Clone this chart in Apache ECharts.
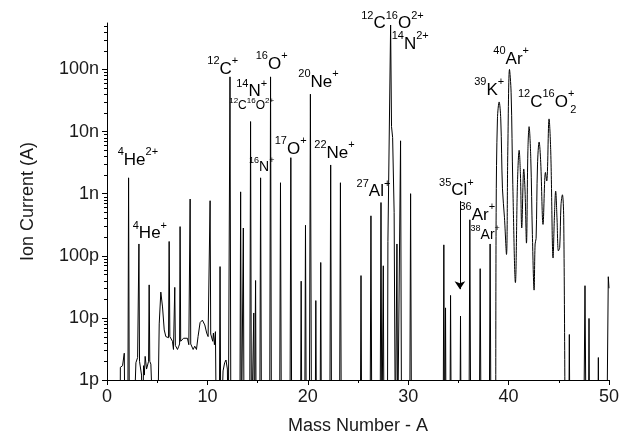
<!DOCTYPE html>
<html>
<head>
<meta charset="utf-8">
<script src="https://cdn.jsdelivr.net/npm/echarts@6/dist/echarts.min.js"></script>
<style>
  html, body { margin: 0; padding: 0; background: #fff; }
  #chart { width: 622px; height: 440px; }
</style>
</head>
<body>
<div id="chart"></div>
<script>
// values under the 1p floor (line drops out of the plot)
var F = 1e-13;

// [mass number, ion current (A)]
var heliumRegion = [
  [1.30, F], [1.33, 1.6e-12], [1.55, 1.7e-12], [1.72, 2.7e-12], [1.80, F],
  [2.07, F], [2.15, 1.8e-9], [2.23, F],
  [2.62, F], [2.88, 1.9e-12], [3.05, 2.3e-12], [3.12, 2.2e-12], [3.18, 1.55e-10], [3.24, 2.0e-12],
  [3.31, 1.9e-12], [3.44, 1.2e-12], [3.52, F], [3.64, 1.7e-12], [3.72, 1.2e-12], [3.80, 2.4e-12],
  [3.94, 1.5e-12], [4.14, 2.0e-12], [4.20, 3.4e-11], [4.26, 2.0e-12], [4.37, 1.8e-12], [4.54, 1.7e-12], [4.64, F]
];

var lowMassRegion = [
  [5.03, F], [5.20, 8e-12], [5.36, 2.6e-11], [5.53, 1.5e-11], [5.70, 6.4e-12], [5.86, 5e-12],
  [6.03, 4.7e-12], [6.13, 4.8e-12], [6.19, 1.7e-10], [6.26, 5e-12], [6.32, 5e-12], [6.52, 4.2e-12],
  [6.62, 3.1e-12], [6.70, 3.3e-12], [6.75, 3.1e-11], [6.81, 3.6e-12], [6.89, 3.7e-12], [7.02, 3.1e-12],
  [7.15, 3.5e-12], [7.23, 3.8e-12], [7.28, 2.95e-10], [7.34, 4.2e-12], [7.42, 4.4e-12], [7.62, 4.7e-12],
  [7.81, 4.4e-12], [8.01, 4.7e-12], [8.15, 3.7e-12], [8.23, 3.8e-12], [8.28, 8.2e-10], [8.34, 3.8e-12],
  [8.41, 3.7e-12], [8.58, 3.1e-12], [8.74, 3.5e-12], [8.91, 3.1e-12], [9.07, 5e-12], [9.27, 8.4e-12],
  [9.50, 9.2e-12], [9.74, 7.7e-12], [9.93, 5.7e-12], [10.07, 5e-12], [10.21, 5e-12], [10.27, 7.7e-10],
  [10.33, 5.5e-12], [10.40, 5.3e-12], [10.53, 4.2e-12], [10.60, 5.7e-12], [10.70, 3.7e-12], [10.80, 6e-12], [10.90, F],
  [11.18, F], [11.26, 6.7e-11], [11.34, F],
  [11.50, F], [11.56, 1.4e-12], [11.72, 1.9e-12], [11.85, 2.1e-12], [11.99, 1.5e-12], [12.08, F]
];

var midMassRegion = [
  [12.16, F], [12.25, 7.6e-8], [12.34, F],
  [13.23, F], [13.31, 1.07e-9], [13.39, F],
  [13.51, F], [13.58, 2.8e-10], [13.65, F],
  [14.21, F], [14.30, 1.45e-8], [14.39, F],
  [14.56, F], [14.62, 1.2e-11], [14.68, F],
  [14.74, F], [14.80, 4e-11], [14.86, F],
  [15.21, F], [15.30, 1.8e-9], [15.39, F],
  [16.20, F], [16.29, 7.6e-8], [16.38, F],
  [17.19, F], [17.28, 1.5e-9], [17.37, F],
  [18.22, F], [18.31, 3.8e-9], [18.40, F],
  [19.27, F], [19.34, 3.9e-11], [19.41, F],
  [19.69, F], [19.77, 3.1e-10], [19.85, F],
  [20.15, F], [20.26, 4e-8], [20.37, F],
  [20.73, F], [20.80, 1.9e-11], [20.87, F],
  [21.22, F], [21.29, 7.8e-11], [21.36, F],
  [22.19, F], [22.28, 2.9e-9], [22.37, F],
  [23.16, F], [23.25, 1.5e-9], [23.34, F],
  [25.23, F], [25.30, 4.8e-11], [25.37, F],
  [26.20, F], [26.29, 4.4e-10], [26.38, F],
  [27.20, F], [27.29, 7.2e-10], [27.38, F],
  [27.45, F], [27.52, 6.9e-11], [27.59, F],
  [27.93, F], [27.98, 1.7e-10], [28.06, 1.8e-10], [28.25, 5.2e-7], [28.34, 1.2e-8], [28.45, 8e-9], [28.60, 5e-10], [28.72, F],
  [28.81, F], [28.88, 1.55e-10], [28.95, F],
  [29.14, F], [29.24, 7.1e-9], [29.34, F],
  [30.15, F], [30.24, 1.0e-9], [30.33, F]
];

var highMassRegion = [
  [33.48, F], [33.55, 1.5e-10], [33.62, F],
  [33.67, F], [33.72, 1.45e-11], [33.77, F],
  [34.15, F], [34.22, 2.3e-11], [34.29, F],
  [35.15, F], [35.21, 1.07e-11], [35.27, F],
  [36.05, F], [36.14, 3.8e-10], [36.23, F],
  [37.08, F], [37.17, 6.2e-11], [37.26, F],
  [38.07, F], [38.16, 1.55e-10], [38.25, F]
];

// broad overlapping peaks around 39K / 40Ar / CO2
var argonCluster = [
  [38.72, F], [38.76, 5e-10], [38.89, 1.6e-8], [39.06, 3e-8], [39.22, 1.6e-8], [39.39, 1.2e-9],
  [39.59, 4.1e-10], [39.79, 1.05e-10], [39.92, 4.7e-9], [40.09, 1e-7], [40.25, 4.3e-8], [40.42, 1.4e-9],
  [40.68, 3.7e-11], [40.88, 1.4e-9], [41.05, 5e-9], [41.18, 2e-9], [41.31, 2.8e-10], [41.51, 2.5e-9],
  [41.64, 1.1e-9], [41.78, 1.6e-10], [41.92, 4.7e-9], [42.04, 1.2e-8], [42.21, 3.7e-9], [42.37, 2.2e-10],
  [42.54, 2.8e-11], [42.64, 1.55e-10], [42.74, 1.9e-10], [42.88, 2.9e-9], [43.04, 6.8e-9], [43.20, 3.2e-9],
  [43.43, 3.2e-10], [43.67, 2.2e-9], [43.80, 1.6e-9], [44.03, 1.6e-8], [44.20, 4.7e-9], [44.43, 9.2e-11],
  [44.56, 4.1e-10], [44.69, 1.1e-9], [44.82, 4.1e-10], [44.96, 1.2e-10], [45.09, 1.35e-10], [45.22, 6.6e-10],
  [45.36, 9.6e-10], [45.49, 4.1e-10], [45.63, F]
];

var tailRegion = [
  [45.99, F], [46.05, 5.4e-12], [46.11, F],
  [47.48, F], [47.61, 3.3e-11], [47.72, F],
  [47.95, F], [48.01, 9.8e-12], [48.07, F],
  [48.89, F], [48.94, 2.3e-12], [48.99, F],
  [49.78, F], [49.93, 4.6e-11], [50.0, 3e-11]
];

// axis ticks
var xTicks = [0, 10, 20, 30, 40, 50];
var yTickLabels = ['1p', '10p', '100p', '1n', '10n', '100n'];

// peak annotations: position (mass, current) and text
var labelMass    = [3.08, 4.27, 11.53, 16.4, 14.41, 14.41, 15.41, 18.29, 21.07, 22.66, 26.54, 28.43, 30.2, 34.8, 36.88, 37.67, 38.07, 40.26, 43.74, 46.45];
var labelCurrent = [3.8e-9, 2.5e-10, 1.12e-7, 1.35e-7, 4.8e-8, 2.8e-8, 2.9e-9, 5.7e-9, 6.9e-8, 4.9e-9, 1.18e-9, 6.0e-7, 2.8e-7, 1.23e-9, 4.9e-10, 2.3e-10, 5.1e-8, 1.6e-7, 3.3e-8, 2.2e-8];
var labelText = [
  '{s|4}{b|He}{s|2+}', '{s|4}{b|He}{s|+}', '{s|12}{b|C}{s|+}', '{s|16}{b|O}{s|+}', '{s|14}{b|N}{s|+}',
  '{ts|12}{t|C}{ts|16}{t|O}{ts|2+}', '{ms|16}{m|N}{ms|+}', '{s|17}{b|O}{s|+}', '{s|20}{b|Ne}{s|+}', '{s|22}{b|Ne}{s|+}',
  '{s|27}{b|Al}{s|+}', '{s|12}{b|C}{s|16}{b|O}{s|2+}', '{s|14}{b|N}{s|2+}', '{s|35}{b|Cl}{s|+}', '{s|36}{b|Ar}{s|+}',
  '{ms|38}{m|Ar}{ms|+}', '{s|39}{b|K}{s|+}', '{s|40}{b|Ar}{s|+}', '{s|12}{b|C}{s|16}{b|O}{s|+}', '{sub|2}'
];

// arrow pointing at 35Cl
var arrowMass = 35.15;
var arrowFrom = 7.6e-10;
var arrowTo = 2.9e-11;

var spikes = heliumRegion.concat(lowMassRegion, midMassRegion, highMassRegion, tailRegion.slice(0, 0));

var minorVals = [];
for (var e = -12; e <= -7; e++) {
  for (var m = 2; m <= 9; m++) {
    var v = m * Math.pow(10, e);
    if (v <= 5.6e-7) minorVals.push([0, v]);
  }
}

var ink = '#000';
var fontFam = 'Liberation Sans, Arial, sans-serif';

var annData = [];
for (var i = 0; i < labelMass.length; i++) {
  annData.push({ value: [labelMass[i], labelCurrent[i]], label: { formatter: labelText[i] } });
}

var lineStyle = { color: '#000', width: 1 };

var chart = echarts.init(document.getElementById('chart'), null, { renderer: 'canvas' });
chart.setOption({
  animation: false,
  textStyle: { fontFamily: fontFam },
  grid: { left: 107, right: 12, top: 23, bottom: 56 },
  xAxis: {
    type: 'value', min: 0, max: 50, interval: 10,
    name: 'Mass Number - A', nameLocation: 'middle', nameGap: 37,
    nameTextStyle: { fontSize: 18, color: '#1a1a1a', fontFamily: fontFam },
    axisLine: { lineStyle: { color: '#000', width: 1 } },
    axisTick: { length: 5, lineStyle: { color: '#000' } },
    minorTick: { show: true, splitNumber: 2, length: 3, lineStyle: { color: '#000' } },
    axisLabel: {
      fontSize: 18, color: '#1a1a1a', margin: 8, fontFamily: fontFam,
      formatter: function (v) { return xTicks.indexOf(v) >= 0 ? String(v) : ''; }
    },
    splitLine: { show: false }
  },
  yAxis: {
    type: 'log', logBase: 10, min: 1e-12, max: 5.6e-7,
    name: 'Ion Current (A)', nameLocation: 'middle', nameGap: 70,
    nameTextStyle: { fontSize: 18, color: '#1a1a1a', fontFamily: fontFam },
    axisLine: { show: true, lineStyle: { color: '#000', width: 1 } },
    axisTick: { show: true, length: 5, lineStyle: { color: '#000' } },
    axisLabel: {
      fontSize: 18, color: '#1a1a1a', margin: 8, fontFamily: fontFam, showMaxLabel: false,
      formatter: function (v) {
        var k = Math.round(Math.log10(v)) + 12;
        return yTickLabels[k] || '';
      }
    },
    splitLine: { show: false }
  },
  series: [
    {
      type: 'line', data: spikes.concat(tailRegion), showSymbol: false, clip: true,
      lineStyle: lineStyle, z: 3,
      markLine: {
        silent: true, symbol: ['none', 'arrow'], symbolSize: 8,
        lineStyle: { color: '#000', width: 1, type: 'solid' },
        label: { show: false },
        data: [[{ coord: [arrowMass, arrowFrom] }, { coord: [arrowMass, arrowTo] }]]
      }
    },
    {
      type: 'line', data: argonCluster, showSymbol: false, clip: true,
      smooth: 0.35, lineStyle: lineStyle, z: 3
    },
    {
      type: 'custom', data: minorVals, silent: true, z: 4,
      encode: { x: 0, y: 1 },
      renderItem: function (params, api) {
        var p = api.coord([0, api.value(1)]);
        var y = Math.round(p[1]) + 0.5;
        return { type: 'line', shape: { x1: p[0], y1: y, x2: p[0] - 3, y2: y }, style: { stroke: '#000', lineWidth: 1 } };
      }
    },
    {
      type: 'scatter', data: annData, symbolSize: 0, silent: true, clip: false, z: 5,
      itemStyle: { opacity: 1 },
      label: {
        show: true, position: 'inside', color: ink, opacity: 1, fontFamily: fontFam,
        rich: {
          b: { fontSize: 17, lineHeight: 22, verticalAlign: 'bottom', color: ink, fontFamily: fontFam },
          s: { fontSize: 11, lineHeight: 11, verticalAlign: 'top', color: ink, fontFamily: fontFam },
          m: { fontSize: 14, lineHeight: 18, verticalAlign: 'bottom', color: ink, fontFamily: fontFam },
          ms: { fontSize: 9, lineHeight: 9, verticalAlign: 'top', color: ink, fontFamily: fontFam },
          t: { fontSize: 12, lineHeight: 15, verticalAlign: 'bottom', color: ink, fontFamily: fontFam },
          ts: { fontSize: 8, lineHeight: 8, verticalAlign: 'top', color: ink, fontFamily: fontFam },
          sub: { fontSize: 11, lineHeight: 11, color: ink, fontFamily: fontFam }
        }
      }
    }
  ]
});
</script>
</body>
</html>
